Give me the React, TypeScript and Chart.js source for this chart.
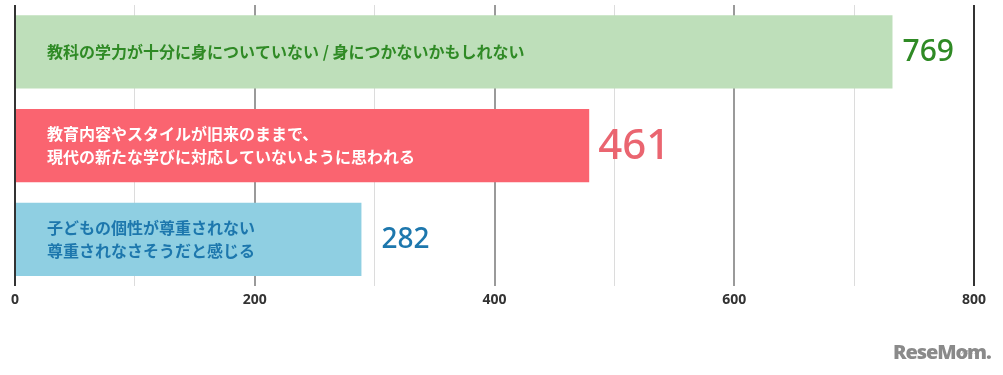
import React, { useEffect, useRef } from "react";
import { Chart, registerables } from "chart.js";

Chart.register(...registerables);

// ---- data ----
const categories: string[][] = [
  ["教科の学力が十分に身についていない / 身につかないかもしれない"],
  ["教育内容やスタイルが旧来のままで、", "現代の新たな学びに対応していないように思われる"],
  ["子どもの個性が尊重されない", "尊重されなさそうだと感じる"],
];
// bar lengths as drawn in the picture
const barValues = [732, 479, 289];
// numbers printed next to the bars
const valueLabels = ["769", "461", "282"];
const tickLabels = [0, 200, 400, 600, 800];
const axisMin = 0;
const axisMax = 800;
const gridStep = 100;

// ---- styles ----
const barColors = ["#bedfba", "#fa6470", "#8fcfe2"];
const textColors = ["#2f8a25", "#ffffff", "#1d77ad"];
const valueColors = ["#2f8a25", "#ea6570", "#1d77ad"];
const valueFontSizes = [30, 42, 28];
const valueOffsets = [10, 9, 20];

const labelPlugin = {
  id: "barLabels",
  afterDatasetsDraw(chart: any) {
    const ctx = chart.ctx as CanvasRenderingContext2D;
    const meta = chart.getDatasetMeta(0);
    const area = chart.chartArea;
    meta.data.forEach((bar: any, i: number) => {
      const { x, y } = bar.getProps(["x", "y"], true);
      ctx.save();
      ctx.textBaseline = "middle";
      ctx.textAlign = "left";
      ctx.fillStyle = textColors[i];
      ctx.font = "bold 16px 'Noto Sans CJK JP'";
      const lines = categories[i];
      const lh = 23.5;
      lines.forEach((line, j) => {
        ctx.fillText(line, area.left + 32, y + (j - (lines.length - 1) / 2) * lh);
      });
      ctx.fillStyle = valueColors[i];
      ctx.font = `500 ${valueFontSizes[i]}px 'Noto Sans'`;
      ctx.fillText(valueLabels[i], x + valueOffsets[i], y + 1);
      ctx.restore();
    });
  },
};

export default function App() {
  const ref = useRef<HTMLCanvasElement>(null);
  useEffect(() => {
    if (!ref.current) return;
    const chart = new Chart(ref.current, {
      type: "bar",
      data: {
        labels: categories,
        datasets: [
          {
            data: barValues,
            backgroundColor: barColors,
            borderWidth: 0,
            categoryPercentage: 1,
            barPercentage: 0.78,
          },
        ],
      },
      options: {
        indexAxis: "y",
        responsive: false,
        animation: false,
        layout: { padding: { left: 15, right: 29, top: 5, bottom: 62 } },
        plugins: { legend: { display: false }, tooltip: { enabled: false } },
        scales: {
          x: {
            type: "linear",
            min: axisMin,
            max: axisMax,
            border: { display: false },
            grid: {
              drawTicks: false,
              color: (c: any) => {
                const v = c.tick?.value;
                if (v === axisMin || v === axisMax) return "#333333";
                if (tickLabels.includes(v)) return "#9a9a9a";
                return "#dcdcdc";
              },
              lineWidth: (c: any) => {
                const v = c.tick?.value;
                return tickLabels.includes(v) ? 2 : 1;
              },
            },
            ticks: {
              stepSize: gridStep,
              autoSkip: false,
              maxRotation: 0,
              padding: 5,
              color: "#333333",
              font: { family: "'Noto Sans'", size: 14, weight: "bold" },
              callback: (v: any) => (tickLabels.includes(Number(v)) ? String(v) : ""),
            },
          },
          y: { display: false },
        },
      },
      plugins: [labelPlugin],
    });
    return () => chart.destroy();
  }, []);

  return (
    <div style={{ position: "absolute", left: 0, top: 0, width: 1003, height: 375, background: "#fff" }}>
      <canvas ref={ref} width={1003} height={375} style={{ width: 1003, height: 375 }} />
      <div
        style={{
          position: "absolute",
          left: 893,
          top: 337,
          fontFamily: "'Open Sans', sans-serif",
          fontWeight: 800,
          fontSize: 20,
          letterSpacing: -1.1,
          color: "#8a8a8a",
          lineHeight: "30px",
        }}
      >
        ReseMom.
        <span
          style={{
            position: "absolute",
            left: 66,
            top: -1,
            fontSize: 5,
            letterSpacing: 0,
            fontWeight: 400,
            fontFamily: "'Noto Sans CJK JP'",
          }}
        >
          リセマム
        </span>
      </div>
    </div>
  );
}
